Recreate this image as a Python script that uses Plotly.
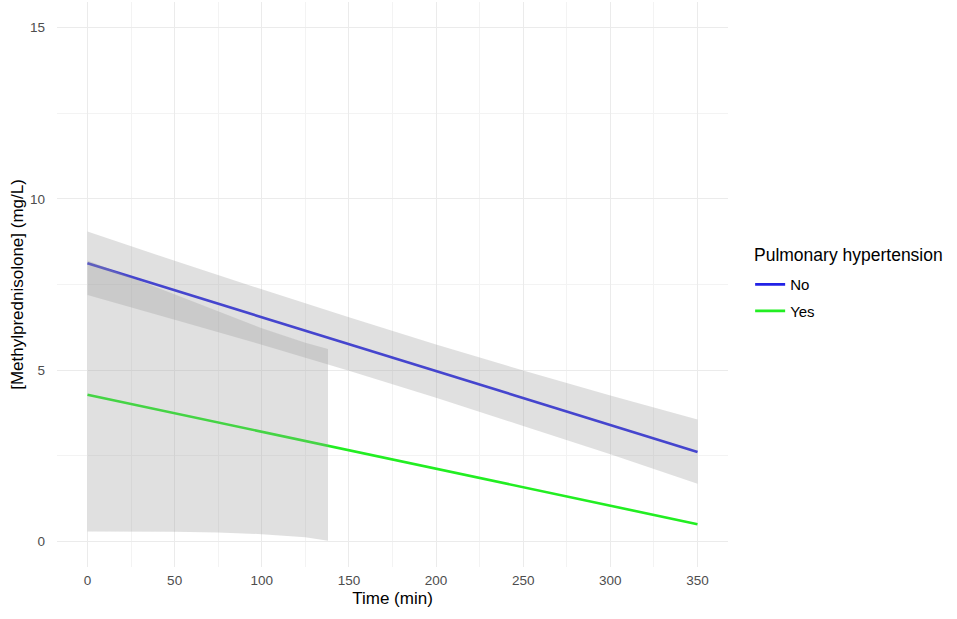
import plotly.graph_objects as go

# ---- data ----
line_x = [0, 350]
no_fit = [8.12, 2.61]
yes_fit = [4.28, 0.50]

no_band_x = [0, 50, 100, 150, 200, 250, 300, 350]
no_band_upper = [9.05, 8.19, 7.36, 6.54, 5.75, 4.99, 4.26, 3.56]
no_band_lower = [7.19, 6.47, 5.74, 4.98, 4.19, 3.37, 2.54, 1.68]

yes_band_x = [0, 25, 50, 75, 100, 125, 138]
yes_band_upper = [8.20, 7.70, 7.20, 6.70, 6.22, 5.80, 5.62]
yes_band_lower = [0.29, 0.29, 0.28, 0.26, 0.21, 0.12, 0.02]

x_ticks = [0, 50, 100, 150, 200, 250, 300, 350]
y_ticks = [0, 5, 10, 15]

legend_title = "Pulmonary hypertension"

BLUE = "#2222E6"
GREEN = "#22EE22"
BAND = "rgba(153,153,153,0.30)"
FONT = "Liberation Sans, Arial, sans-serif"

fig = go.Figure()

# fitted lines (drawn first; ribbons overlay them like the reference)
fig.add_trace(go.Scatter(x=line_x, y=no_fit, mode="lines", name="No",
                         line=dict(color=BLUE, width=2.6),
                         legendgroup="no", showlegend=True))
fig.add_trace(go.Scatter(x=line_x, y=yes_fit, mode="lines", name="Yes",
                         line=dict(color=GREEN, width=2.6),
                         legendgroup="yes", showlegend=True))

# confidence ribbons
fig.add_trace(go.Scatter(
    x=no_band_x + no_band_x[::-1],
    y=no_band_upper + no_band_lower[::-1],
    fill="toself", fillcolor=BAND, line=dict(width=0),
    mode="lines", hoverinfo="skip", showlegend=False))
fig.add_trace(go.Scatter(
    x=yes_band_x + yes_band_x[::-1],
    y=yes_band_upper + yes_band_lower[::-1],
    fill="toself", fillcolor=BAND, line=dict(width=0),
    mode="lines", hoverinfo="skip", showlegend=False))

grid_major = "#EBEBEB"
grid_minor = "#F3F3F3"

fig.update_layout(
    width=957, height=619,
    paper_bgcolor="white", plot_bgcolor="white",
    margin=dict(l=57, r=229, t=2, b=52),
    font=dict(family=FONT, color="#4D4D4D"),
    showlegend=True,
    legend=dict(
        font=dict(size=15, color="black", family=FONT),
        x=1.033, xanchor="left", y=0.529, yanchor="top",
        bgcolor="rgba(0,0,0,0)", tracegroupgap=4, itemwidth=30,
    ),
    annotations=[dict(
        text=legend_title, xref="paper", yref="paper",
        x=1.0358, y=0.552, xanchor="left", yanchor="middle", showarrow=False,
        font=dict(size=17.5, color="black", family=FONT))],
    xaxis=dict(
        range=[-17.5, 367.5], tickvals=x_ticks,
        showgrid=True, gridcolor=grid_major, gridwidth=1.1,
        minor=dict(dtick=25, tick0=0, showgrid=True, gridcolor=grid_minor, gridwidth=0.8),
        zeroline=False, showline=False, ticks="",
        tickfont=dict(size=13.5, color="#4D4D4D", family=FONT),
        ticklabelstandoff=3,
        title=dict(text="Time (min)", font=dict(size=17, color="black", family=FONT),
                   standoff=5),
    ),
    yaxis=dict(
        range=[-0.75, 15.75], tickvals=y_ticks,
        showgrid=True, gridcolor=grid_major, gridwidth=1.1,
        minor=dict(dtick=2.5, tick0=0, showgrid=True, gridcolor=grid_minor, gridwidth=0.8),
        zeroline=False, showline=False, ticks="",
        tickfont=dict(size=13.5, color="#4D4D4D", family=FONT),
        ticklabelstandoff=11,
        title=dict(text="[Methylprednisolone] (mg/L)",
                   font=dict(size=17, color="black", family=FONT), standoff=2),
    ),
)

fig.write_html("out.html", config={"displayModeBar": False},
               post_script="document.body.style.margin='0';")
